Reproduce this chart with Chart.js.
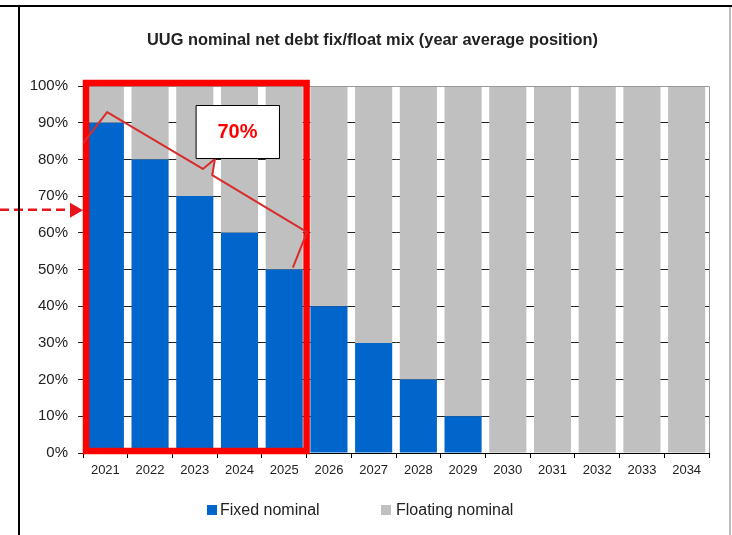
<!DOCTYPE html>
<html>
<head>
<meta charset="utf-8">
<script src="https://cdn.jsdelivr.net/npm/chart.js@4.4.1/dist/chart.umd.min.js"></script>
<style>
  html, body { margin: 0; padding: 0; background: #fff; }
  #wrap { width: 732px; height: 535px; position: relative; }
</style>
</head>
<body>
<div id="wrap"><canvas id="c" width="732" height="535"></canvas></div>
<script>
const categories = ['2021','2022','2023','2024','2025','2026','2027','2028','2029','2030','2031','2032','2033','2034'];
const fixedNominal = [90, 80, 70, 60, 50, 40, 30, 20, 10, 0, 0, 0, 0, 0];
const floatingNominal = [10, 20, 30, 40, 50, 60, 70, 80, 90, 100, 100, 100, 100, 100];
const seriesNames = ['Fixed nominal', 'Floating nominal'];
const titleText = 'UUG nominal net debt fix/float mix (year average position)';
const calloutText = '70%';

const BLUE = '#0066CC';
const GREY = '#C0C0C0';
const BASE_FONT = "'Liberation Sans', Arial, sans-serif";

const overlay = {
  id: 'overlay',
  afterDatasetsDraw(chart) {
    const ctx = chart.ctx;
    const xs = chart.scales.x, ys = chart.scales.y;
    const ca = chart.chartArea;
    const catW = xs.getPixelForValue(1) - xs.getPixelForValue(0);
    const X = f => ca.left + f * catW;   // f: category units from left edge
    const Y = v => ys.getPixelForValue(v);
    ctx.save();

    // plot border (top & right, grey)
    ctx.strokeStyle = '#9a9a9a';
    ctx.lineWidth = 1;
    ctx.beginPath();
    ctx.moveTo(ca.left, ca.top + 0.5);
    ctx.lineTo(ca.right + 0.5, ca.top + 0.5);
    ctx.lineTo(ca.right + 0.5, ca.bottom);
    ctx.stroke();

    // red highlight rectangle around 2021-2025
    ctx.strokeStyle = '#FF0000';
    ctx.lineWidth = 6.5;
    ctx.strokeRect(X(0) + 3, Y(100) - 3, X(5) - X(0) - 3, Y(0) - Y(100) + 1);

    // brace
    ctx.strokeStyle = '#D92B2B';
    ctx.lineWidth = 2;
    ctx.lineJoin = 'round';
    ctx.lineCap = 'round';
    const brace = [[0.02, 84.7], [0.54, 92.9], [2.68, 77.4], [2.95, 80.1], [2.89, 75.7], [5.01, 60.2], [4.70, 50.7]];
    ctx.beginPath();
    brace.forEach((p, i) => {
      const px = X(p[0]), py = Y(p[1]);
      if (i === 0) ctx.moveTo(px, py); else ctx.lineTo(px, py);
    });
    ctx.stroke();

    // callout box
    const bx = X(2.53), by = Y(94.8), bw = X(4.38) - X(2.53), bh = Y(80.4) - Y(94.8);
    ctx.fillStyle = '#fff';
    ctx.fillRect(bx, by, bw, bh);
    ctx.strokeStyle = '#000';
    ctx.lineWidth = 1;
    ctx.strokeRect(Math.round(bx) + 0.5, Math.round(by) + 0.5, Math.round(bw), Math.round(bh));
    ctx.fillStyle = '#FF0000';
    ctx.font = "bold 20px " + BASE_FONT;
    ctx.textAlign = 'center';
    ctx.textBaseline = 'middle';
    ctx.fillText(calloutText, bx + bw / 2, by + bh / 2 + 1);

    // dashed arrow from the left
    const ay = Y(66.3);
    ctx.strokeStyle = '#E8141B';
    ctx.lineWidth = 2.5;
    ctx.lineCap = 'butt';
    ctx.setLineDash([9, 5]);
    ctx.beginPath();
    ctx.moveTo(0, ay);
    ctx.lineTo(ca.left - 14, ay);
    ctx.stroke();
    ctx.setLineDash([]);
    ctx.fillStyle = '#E8141B';
    ctx.beginPath();
    ctx.moveTo(ca.left - 13, ay - 7);
    ctx.lineTo(ca.left, ay + 0.5);
    ctx.lineTo(ca.left - 13, ay + 8);
    ctx.closePath();
    ctx.fill();

    ctx.restore();
  },
  afterDraw(chart) {
    const ctx = chart.ctx;
    ctx.save();
    // title (narrow face emulated by horizontal scaling)
    ctx.font = "bold 17px " + BASE_FONT;
    ctx.fillStyle = '#222';
    ctx.textAlign = 'center';
    ctx.textBaseline = 'alphabetic';
    const tw = ctx.measureText(titleText).width;
    const sx = 451 / tw;
    ctx.save();
    ctx.translate(372.5, 45);
    ctx.scale(sx, 1);
    ctx.fillText(titleText, 0, 0);
    ctx.restore();

    // outer frame lines
    ctx.strokeStyle = '#000';
    ctx.lineWidth = 2;
    ctx.beginPath();
    ctx.moveTo(0, 6);
    ctx.lineTo(732, 6);
    ctx.moveTo(19, 6);
    ctx.lineTo(19, 535);
    ctx.stroke();
    ctx.strokeStyle = '#a8a8a8';
    ctx.lineWidth = 1.5;
    ctx.beginPath();
    ctx.moveTo(730, 7);
    ctx.lineTo(730, 535);
    ctx.stroke();

    // legend
    const ly = 510;
    ctx.font = "16px " + BASE_FONT;
    ctx.textBaseline = 'middle';
    ctx.textAlign = 'left';
    ctx.fillStyle = BLUE;
    ctx.fillRect(207, ly - 5, 10, 10);
    ctx.fillStyle = '#222';
    ctx.fillText(seriesNames[0], 220, ly + 1);
    ctx.fillStyle = GREY;
    ctx.fillRect(381, ly - 5, 10, 10);
    ctx.fillStyle = '#222';
    ctx.fillText(seriesNames[1], 396, ly + 1);
    ctx.restore();
  }
};

new Chart(document.getElementById('c'), {
  type: 'bar',
  data: {
    labels: categories,
    datasets: [
      { label: seriesNames[0], data: fixedNominal, backgroundColor: BLUE, borderWidth: 0, barPercentage: 0.83, categoryPercentage: 1.0 },
      { label: seriesNames[1], data: floatingNominal, backgroundColor: GREY, borderWidth: 0, barPercentage: 0.83, categoryPercentage: 1.0 }
    ]
  },
  options: {
    responsive: false,
    animation: false,
    devicePixelRatio: 1,
    layout: { padding: { left: 0, right: 23, top: 86, bottom: 52 } },
    plugins: {
      legend: { display: false },
      tooltip: { enabled: false },
      title: { display: false }
    },
    scales: {
      x: {
        stacked: true,
        afterFit(s) { s.height = 30; },
        grid: { drawOnChartArea: false, drawTicks: true, tickLength: 5, color: '#000' },
        border: { display: true, color: '#000', width: 1 },
        ticks: { color: '#222', font: { family: BASE_FONT, size: 13 }, padding: 5, maxRotation: 0, autoSkip: false }
      },
      y: {
        stacked: true,
        min: 0,
        max: 100,
        afterFit(s) { s.width = 83; },
        grid: {
          color: ctx => (ctx.tick && ctx.tick.value === 100) ? '#9a9a9a' : '#222',
          tickColor: '#222',
          drawTicks: true,
          tickLength: 5,
          lineWidth: 1
        },
        border: { display: true, color: '#000', width: 1 },
        ticks: {
          stepSize: 10,
          color: '#222',
          padding: 10,
          font: { family: BASE_FONT, size: 15 },
          callback: v => v + '%'
        }
      }
    }
  },
  plugins: [overlay]
});
</script>
</body>
</html>
